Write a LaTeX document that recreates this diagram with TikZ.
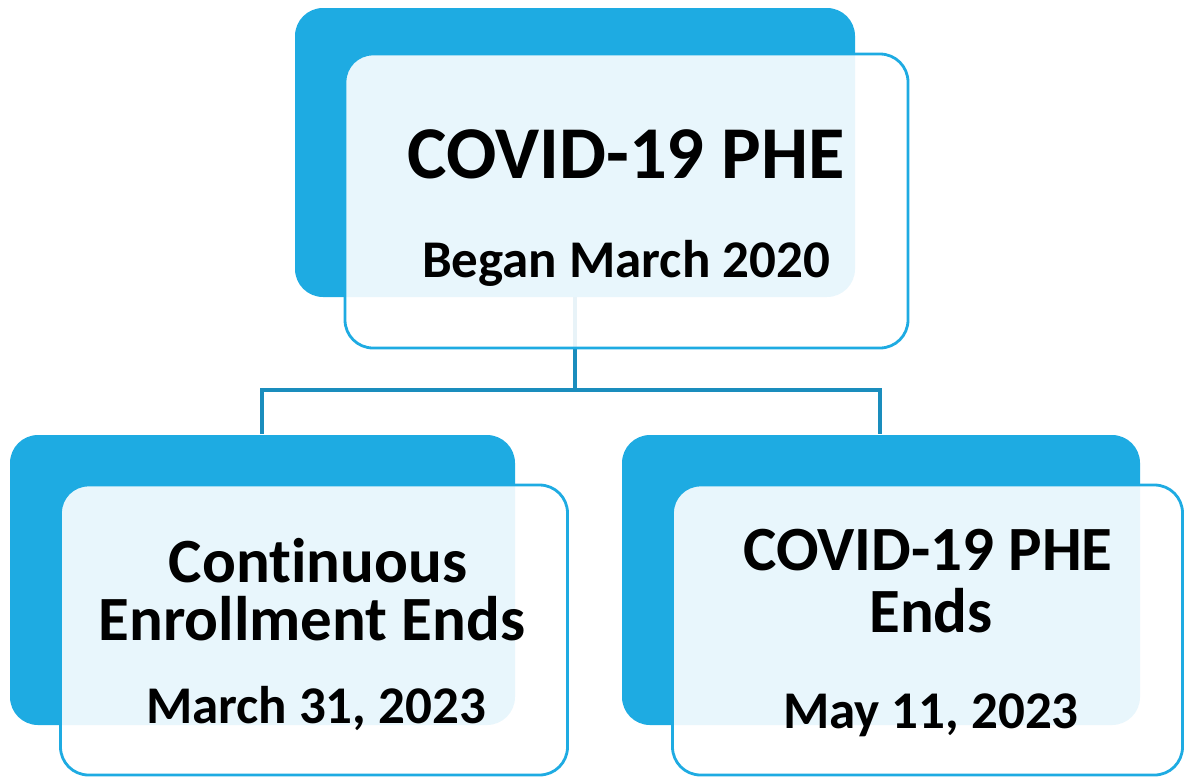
\documentclass[tikz,border=0pt]{standalone}
\usepackage{fontspec}
\setmainfont[Ligatures={NoCommon},RawFeature={-liga}]{Carlito}
\definecolor{darkbox}{HTML}{1EABE2}
\definecolor{linkc}{HTML}{1A8DBD}
\begin{document}
\begin{tikzpicture}[x=1pt,y=-1pt,
  backbox/.style={rectangle,rounded corners=28pt,fill=darkbox,draw=none,inner sep=0pt},
  frontbox/.style={rectangle,rounded corners=28pt,fill=white,fill opacity=0.9,draw=darkbox,line width=2.8pt,inner sep=0pt},
  conn/.style={draw=linkc,line width=3.5pt},
  big/.style={anchor=base,inner sep=0pt,font=\bfseries\fontsize{74.5}{80}\selectfont},
  mid/.style={anchor=base,inner sep=0pt,font=\bfseries\fontsize{63}{70}\selectfont},
  small/.style={anchor=base,inner sep=0pt,font=\bfseries\fontsize{53}{60}\selectfont}]
\useasboundingbox (0,0) rectangle (1185,777);
% back boxes
\node[backbox,minimum width=560pt,minimum height=289pt] (tb) at (575,152.5) {};
\node[backbox,minimum width=505pt,minimum height=290pt] (lb) at (262.5,580) {};
\node[backbox,minimum width=518pt,minimum height=290pt] (rb) at (881,580) {};
% connectors
\coordinate (jn) at (575,390);
\coordinate (jl) at (262,390);
\coordinate (jr) at (880,390);
\coordinate (el) at (262,432);
\coordinate (er) at (880,432);
\draw[conn] (tb.south) -- (jn);
\draw[conn,line cap=rect] (el) -- (jl) -- (jr) -- (er);
% front boxes
\node[frontbox,minimum width=563pt,minimum height=294pt] (tf) at (626.5,201) {};
\node[frontbox,minimum width=507pt,minimum height=290pt] (lf) at (314,630) {};
\node[frontbox,minimum width=510pt,minimum height=290pt] (rf) at (927.5,630) {};
% texts
\node[big] (t1) at (626,178) {COVID-19 PHE};
\node[small] (t2) at (626,277) {Began March 2020};
\node[mid] (l1) at (318,582) {Continuous};
\node[mid] (l2) at (312,640) {Enrollment Ends};
\node[small] (l3) at (316,723) {March 31, 2023};
\node[mid] (r1) at (928,570) {COVID-19 PHE};
\node[mid] (r2) at (931,632) {Ends};
\node[small] (r3) at (931,728) {May 11, 2023};
\end{tikzpicture}
\end{document}
